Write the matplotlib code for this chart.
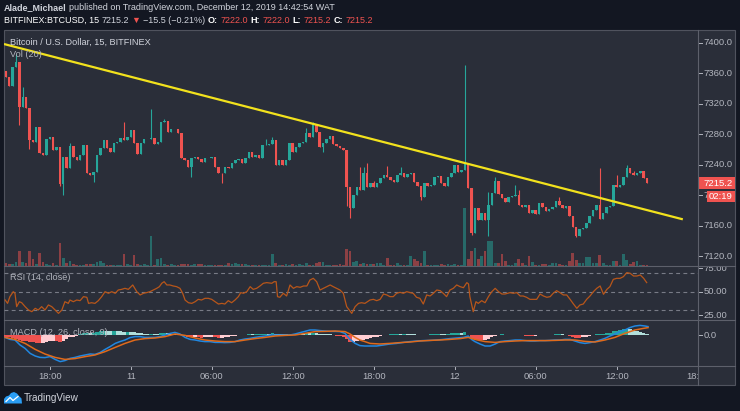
import numpy as np
import matplotlib
matplotlib.use('Agg')
import matplotlib.pyplot as plt
from matplotlib.patches import Rectangle, Polygon
from matplotlib.lines import Line2D
from matplotlib.transforms import blended_transform_factory

# datos (BTCUSD 15m, Bitfinex)
apertura0 = 7363.0
cierres = [
    7355, 7343, 7368, 7375, 7316, 7329, 7313.7, 7272, 7270, 7289.6,
    7254.6, 7252.5, 7274, 7276, 7259, 7262.5, 7214.4, 7250, 7235, 7264,
    7250.3, 7245.9, 7252.5, 7265.6, 7228.4, 7226.2, 7230.6, 7252.5, 7261.2, 7272.1,
    7261.2, 7256.8, 7267.8, 7270, 7274.3, 7272, 7275.6, 7285.2, 7267.8, 7253.8,
    7267.8, 7273, 7273.9, 7275, 7266.9, 7270, 7296.2, 7297, 7283, 7286,
    7286.5, 7281.7, 7248.1, 7245.9, 7237.2, 7248.1, 7250.3, 7246.8, 7243.3, 7248.1,
    7248.5, 7249.4, 7236.3, 7229.3, 7228.4, 7237.2, 7235, 7241.5, 7245.9, 7247.2,
    7241.5, 7249, 7256.8, 7250.3, 7252.5, 7248.1, 7265.6, 7266, 7266.9, 7272.1,
    7239.3, 7245.9, 7239.3, 7245.9, 7267.8, 7256.8, 7263.4, 7267.8, 7270, 7281.7,
    7276.5, 7293.3, 7283, 7262.5, 7267.8, 7273, 7277.4, 7266.9, 7264.3, 7261.2,
    7259, 7210.9, 7182.5, 7200, 7210.9, 7206.6, 7228.4, 7210.9, 7215.3, 7210,
    7216.2, 7221.9, 7225.8, 7223.2, 7219.7, 7217, 7226.2, 7228.4, 7224, 7228,
    7229.3, 7217.5, 7211.8, 7197.8, 7215.3, 7211.8, 7213.1, 7224, 7224.9, 7215.3,
    7211.8, 7224, 7228.4, 7239.3, 7230.6, 7232.8, 7241.5, 7208.7, 7149.7, 7182.5,
    7167.2, 7176, 7167.2, 7186.9, 7202.2, 7218.8, 7201.3, 7195.6, 7191.2, 7196.9,
    7198.6, 7200, 7186.9, 7184.7, 7186.4, 7176, 7180.3, 7175.1, 7189.9, 7184.7,
    7179.5, 7181.2, 7184.7, 7192.6, 7186.9, 7182.5, 7186, 7172.5, 7158.5, 7146.2,
    7155, 7156.3, 7162.8, 7172.5, 7180.3, 7186.9, 7168.1, 7176, 7183.8, 7185.6,
    7213.1, 7210, 7213.1, 7224, 7235, 7228.4, 7226.2, 7228.4, 7231.5, 7221.9,
    7215.2,
]
maximos = {3: 7385, 5: 7342, 19: 7268, 35: 7296, 43: 7312.8, 47: 7300, 77: 7274,
           79: 7276.5, 89: 7287.4, 91: 7296.4, 105: 7236.3, 106: 7236.3, 107: 7241.5,
           109: 7218.8, 113: 7238, 117: 7237.2, 136: 7370.5, 143: 7204.4, 145: 7224,
           151: 7213.1, 152: 7206.6, 164: 7196.9, 176: 7235.9, 181: 7226.2,
           184: 7239.3, 186: 7231}
minimos = {4: 7292, 7: 7260, 16: 7212, 17: 7200, 26: 7217.5, 55: 7223.2, 64: 7215.3,
           94: 7256, 101: 7185.6, 102: 7169.4, 123: 7193.4, 138: 7147, 143: 7145.6,
           169: 7145}
volumen = [
    10, 5, 6, 12, 45, 12, 10, 45, 20, 5, 40, 12, 5, 4, 8, 3, 70, 25, 10, 15,
    5, 4, 3, 4, 5, 5, 5, 12, 14, 8, 3, 3, 3, 2, 3, 35, 5, 3, 32, 5,
    3, 5, 3, 92, 3, 22, 25, 5, 3, 5, 3, 3, 5, 5, 5, 3, 5, 5, 5, 3,
    3, 3, 3, 3, 2, 3, 8, 6, 8, 6, 7, 7,
    3, 3, 2, 3, 3, 2, 3, 35, 8, 3, 3, 5, 3, 5, 3, 5, 3, 8, 3, 3,
    8, 12, 12, 3, 3, 3, 3, 5, 3, 50, 45, 12, 15, 5, 8, 5, 5, 5, 8, 8,
    4, 25, 3, 3, 8, 3, 3, 3, 30, 20, 15, 10, 45, 3, 3, 3, 3, 5, 3, 5,
    3, 5, 3, 3, 175, 20, 45, 55, 20, 30, 45, 75, 75, 10, 8, 35, 15, 3, 3, 8,
    20,
    8, 3, 30, 12, 3, 3, 5, 5, 3, 8, 8, 5, 3, 3, 15, 40, 18, 10, 8, 28,
    28, 8, 10, 33, 8, 3, 3, 15, 15, 3, 35, 18, 5, 12, 15, 3, 3, 3,
]
tendencia_x = [-0.55, 200.6]
tendencia_y = [7398.0, 7168.1]

rsi_pts = [
    (-0.2, 41.1), (0.5, 37.5), (1.2, 44.7), (2.2, 50.0), (2.7, 48.3), (3.2, 34.0),
    (4.0, 39.3), (4.7, 38.2), (5.7, 34.0), (6.7, 30.4), (7.7, 28.6), (8.7, 32.2),
    (9.6, 30.4), (10.6, 34.0), (11.6, 30.4), (12.6, 35.8), (13.6, 34.0), (14.6, 30.4),
    (15.6, 26.8), (16.6, 30.4), (17.5, 39.3), (18.5, 37.5), (19.0, 41.1), (20.0, 39.3),
    (21.0, 41.1), (22.0, 40.4), (23.0, 44.7), (24.0, 44.0), (24.5, 37.5), (25.4, 38.2),
    (26.4, 37.5), (27.4, 40.4), (28.4, 44.7), (29.4, 50.0), (30.4, 48.3), (31.4, 50.0),
    (32.4, 48.3), (33.3, 51.8), (34.3, 52.5), (35.3, 53.6), (36.3, 52.5), (37.6, 57.2),
    (38.8, 50.0), (39.8, 46.5), (40.8, 48.3), (41.7, 49.0), (42.7, 50.0), (43.7, 51.8),
    (44.7, 53.6), (45.5, 55.4), (46.2, 59.0), (46.9, 60.7), (47.7, 57.2), (48.6, 57.2),
    (49.6, 56.1), (50.6, 55.4), (51.6, 53.6), (52.4, 48.3), (53.1, 41.1), (54.1, 38.2),
    (55.1, 37.5), (56.1, 39.3), (57.0, 41.8), (58.0, 41.1), (59.0, 42.9), (60.0, 42.9),
    (61.0, 41.8), (62.0, 39.3), (63.0, 36.8), (64.0, 37.5), (64.9, 36.8), (65.9, 40.4),
    (66.9, 38.2), (67.9, 41.1), (68.9, 44.7), (69.6, 49.0), (70.4, 48.3), (71.4, 50.0),
    (72.4, 55.4), (73.3, 52.5), (74.3, 53.6), (75.3, 56.1), (76.3, 59.0), (77.3, 59.7),
    (78.8, 59.0), (79.5, 60.7), (80.1, 60.7), (80.5, 44.7), (81.2, 44.0), (82.2, 48.3),
    (83.2, 45.4), (84.2, 57.2), (85.2, 53.6), (86.2, 55.4), (87.2, 54.7), (88.2, 56.1),
    (89.2, 56.1), (90.1, 62.5), (91.1, 64.3), (92.1, 60.7), (93.1, 51.8), (94.1, 53.6),
    (95.1, 55.4), (96.1, 57.2), (97.0, 55.4), (98.0, 53.6), (99.0, 51.8), (100.0, 48.3),
    (101.0, 34.0), (102.5, 26.8), (103.5, 34.0), (104.5, 37.5), (105.4, 38.2), (106.4, 37.5),
    (107.9, 41.1), (108.9, 41.8), (109.9, 40.4), (110.9, 41.8), (111.9, 47.5), (112.9, 46.5),
    (113.8, 44.7), (114.8, 44.7), (115.8, 48.3), (116.8, 49.3), (117.8, 48.3), (118.8, 50.0),
    (119.8, 49.0), (120.7, 48.3), (121.7, 44.0), (122.7, 42.9), (123.7, 36.8), (124.7, 46.5),
    (125.7, 45.4), (126.7, 48.3), (127.7, 51.8), (128.7, 51.1), (129.6, 48.3), (130.6, 44.7),
    (131.6, 51.8), (132.6, 53.6), (133.6, 57.2), (134.6, 55.4), (135.6, 54.3), (136.6, 59.7),
    (137.1, 58.3), (137.5, 44.7), (138.5, 28.6), (139.3, 39.3), (140.0, 37.5), (141.0, 40.4),
    (142.0, 38.2), (143.0, 44.7), (144.0, 50.0), (145.0, 53.6), (146.0, 50.0), (147.0, 47.5),
    (147.9, 47.5), (149.4, 49.0), (150.4, 48.3), (151.4, 49.0), (152.4, 45.4), (153.3, 45.4),
    (154.3, 44.0), (155.3, 41.8), (156.3, 41.8), (157.3, 41.8), (158.3, 47.5), (159.3, 45.4),
    (160.3, 44.0), (161.3, 44.7), (162.2, 48.3), (163.2, 51.1), (164.2, 49.0), (165.2, 46.5),
    (166.2, 46.5), (167.2, 41.8), (168.2, 36.8), (169.2, 32.2), (170.1, 35.8), (171.1, 36.8),
    (172.1, 41.8), (173.1, 45.4), (174.1, 50.0), (175.1, 53.6), (176.1, 56.1), (177.1, 47.2),
    (178.1, 52.5), (179.0, 55.4), (180.0, 63.2), (181.0, 64.3), (182.0, 64.3), (183.0, 66.1),
    (184.0, 70.4), (185.0, 69.7), (186.0, 66.8), (187.0, 66.8), (188.0, 67.9), (189.0, 64.3),
    (189.9, 59.7),
]
macd_pts = [
    (-0.2, -1.2), (1.2, -2.2), (2.7, -2.5), (4.2, -5.0), (5.7, -6.7), (7.2, -9.2),
    (8.7, -10.5), (10.1, -11.2), (11.6, -11.3), (13.1, -10.8), (14.6, -12.2), (16.1, -13.3),
    (17.5, -12.8), (19.0, -11.7), (20.5, -11.2), (22.0, -10.5), (23.5, -10.0), (25.0, -9.5),
    (26.4, -9.7), (27.9, -8.8), (29.4, -7.2), (30.9, -5.8), (32.4, -4.2), (33.8, -3.3),
    (35.3, -2.5), (36.8, -1.3), (38.3, -0.8), (39.8, -0.8), (41.2, -1.2), (42.7, -1.2),
    (44.2, -1.2), (45.7, -0.8), (47.2, 0.0), (48.7, 0.8), (50.1, 1.3), (51.6, 0.5),
    (53.1, -1.2), (54.6, -2.2), (56.1, -2.5), (57.5, -3.0), (59.0, -3.3), (60.5, -3.3),
    (62.0, -3.7), (63.5, -3.7), (64.9, -3.8), (66.4, -3.7), (67.9, -3.3), (69.4, -2.5),
    (70.9, -2.0), (72.4, -1.7), (73.8, -1.2), (75.3, -0.8), (76.8, -0.5), (78.3, 0.0),
    (79.8, 0.0), (81.2, 0.0), (82.7, 0.0), (84.2, 0.0), (85.7, 0.5), (87.2, 1.2),
    (88.6, 1.8), (90.1, 2.5), (91.6, 2.5), (93.1, 2.2), (94.6, 2.0), (96.1, 1.8),
    (97.5, 1.8), (99.0, 1.7), (100.5, 0.8), (102.0, -2.2), (103.5, -4.2), (104.9, -5.3),
    (106.4, -5.5), (107.9, -5.5), (109.9, -5.5), (111.9, -5.0), (113.8, -4.5), (115.8, -4.2),
    (117.8, -3.7), (119.8, -3.3), (121.7, -3.0), (123.7, -2.8), (125.7, -2.7), (127.7, -2.5),
    (129.6, -2.2), (131.6, -1.8), (133.6, -1.5), (135.6, -1.2), (137.0, -0.5), (138.0, -2.2),
    (139.0, -3.3), (140.5, -4.5), (142.0, -5.5), (143.5, -5.5), (145.0, -4.5), (146.4, -3.3),
    (147.9, -3.0), (149.4, -2.8), (150.9, -2.5), (152.4, -2.5), (153.8, -2.8), (155.3, -3.0),
    (156.8, -3.0), (158.3, -2.8), (159.8, -2.8), (161.2, -2.7), (162.7, -2.5), (164.2, -2.5),
    (165.7, -2.2), (167.2, -2.2), (168.6, -3.0), (170.1, -3.8), (171.6, -4.2), (173.1, -3.8),
    (174.6, -3.3), (176.1, -2.5), (177.5, -1.7), (179.0, -0.5), (180.5, 0.5), (182.0, 1.7),
    (183.4, 2.5), (184.9, 3.7), (186.4, 4.5), (187.9, 4.8), (189.4, 4.5), (190.3, 4.2),
]
senal_pts = [
    (-0.2, -1.2), (2.7, -2.2), (5.7, -4.2), (8.7, -7.2), (11.6, -9.5), (14.6, -11.2),
    (17.5, -12.2), (20.5, -11.8), (23.5, -10.8), (26.4, -10.0), (29.4, -8.3), (32.4, -6.2),
    (35.3, -4.2), (38.3, -2.5), (41.2, -1.8), (44.2, -1.5), (47.2, -0.8), (50.1, 0.5),
    (53.1, -0.2), (56.1, -1.5), (59.0, -2.5), (62.0, -3.0), (64.9, -3.3), (67.9, -3.3),
    (70.9, -2.5), (73.8, -1.8), (76.8, -1.2), (79.8, -0.5), (82.7, -0.2), (85.7, 0.0),
    (88.6, 0.8), (91.6, 1.7), (94.6, 1.8), (97.5, 2.0), (100.5, 1.7), (102.0, 0.5),
    (103.5, -1.2), (104.9, -2.5), (106.4, -3.3), (107.9, -4.2), (110.8, -4.5), (113.8, -4.2),
    (116.8, -3.8), (119.8, -3.5), (122.7, -3.0), (125.7, -2.7), (128.7, -2.5), (131.6, -2.2),
    (134.6, -1.8), (137.0, -1.2), (139.0, -2.2), (142.0, -3.3), (145.0, -3.7), (147.9, -3.3),
    (150.9, -3.0), (153.8, -2.8), (156.8, -2.8), (159.8, -2.8), (162.7, -2.7), (165.7, -2.5),
    (168.6, -2.5), (171.6, -3.2), (174.6, -3.5), (177.5, -2.5), (180.5, -1.2), (183.4, 0.8),
    (186.4, 2.5), (188.9, 3.3), (190.3, 3.7),
]
histograma = [
    -0.8, -1.2, -1.5, -2.0, -2.3, -2.8, -3.0, -3.5, -3.6, -3.8,
    -4.0, -3.8, -3.4, -3.0, -2.8, -3.2, -3.5, -2.8, -1.8, -1.2,
    -0.8, -0.4, 0.3, 0.8, 1.0, 0.9, 1.2, 1.5, 1.9, 2.2,
    2.1, 2.0, 2.1, 1.9, 1.8, 1.6, 1.7, 1.5, 1.3, 1.1,
    0.9, 0.7, 0.6, 0.7, 0.5, 0.5, 0.8, 1.0, 0.9, 0.7,
    0.6, 0.4, 0.1, -0.5, -1.0, -1.2, -1.1, -1.2, -1.3, -1.2,
    -1.0, -0.9, -1.2, -1.5, -1.4, -1.2, -1.0, -0.7, -0.4, -0.2,
    0.1, 0.2, 0.4, 0.3, 0.4, 0.5, 0.6, 0.7, 0.7, 0.8,
    0.5, 0.4, 0.4, 0.3, 0.5, 0.5, 0.6, 0.7, 0.7, 0.9,
    0.9, 1.1, 0.9, 0.6, 0.5, 0.4, 0.4, 0.2, -0.3, -0.6,
    -0.9, -2.2, -3.6, -3.5, -3.0, -2.6, -2.3, -1.8, -1.5, -1.2,
    -1.0, -0.5, -0.2, 0.2, 0.3, 0.5, 0.6, 0.6, 0.7, 0.6,
    0.5, 0.3, 0.2, -0.2, 0.1, 0.2, 0.3, 0.4, 0.6, 0.5,
    0.4, 0.6, 0.8, 1.0, 1.1, 1.0, 1.3, 0.2, -1.5, -2.2,
    -2.5, -2.6, -2.4, -1.8, -1.0, -0.3, 0.2, 0.3, 0.2, 0.1,
    0.2, 0.1, -0.1, -0.2, -0.3, -0.5, -0.6, -0.5, -0.2, -0.1,
    -0.1, 0.0, 0.1, 0.3, 0.4, 0.3, 0.2, -0.3, -0.8, -1.3,
    -1.5, -1.2, -0.9, -0.5, -0.2, 0.3, 0.4, 0.6, 0.8, 1.2,
    1.8, 2.2, 2.5, 2.8, 3.0, 2.8, 2.4, 2.0, 1.6, 1.2,
    0.6,
]
horas_pos = [13, 37, 61, 85, 109, 133, 157, 181, 205]
horas_txt = ['18:00', '11', '06:00', '12:00', '18:00', '12', '06:00', '12:00', '18:00']
precios_eje = [7400, 7360, 7320, 7280, 7240, 7200, 7160, 7120]
rsi_eje = [75, 50, 25]
rsi_niveles = [70, 50, 30]

# colores estilo TradingView oscuro
FONDO = '#131722'
PANEL = '#2a2e39'
BORDE = '#50535e'
TEXTO = '#d1d4dc'
GRIS = '#b2b5be'
VERDE = '#26a69a'
ROJO = '#ef5350'
AMARILLO = '#f2e21d'
TAM = 6.8

plt.rcParams['font.family'] = ['Liberation Sans', 'DejaVu Sans']

W, H = 740, 411


def caja(x0, y0, x1, y1):
    return [x0 / W, 1 - y1 / H, (x1 - x0) / W, (y1 - y0) / H]


def fx(x):
    return x / W


def fy(y):
    return 1 - y / H


fig = plt.figure(figsize=(7.4, 4.11), dpi=100, facecolor=FONDO)
fig.patches.append(Rectangle((fx(4), fy(385)), fx(735) - fx(4), fy(30) - fy(385),
                             transform=fig.transFigure, facecolor=PANEL,
                             edgecolor=BORDE, lw=0.8, zorder=-1))

XLIM = (-0.55, 205.1)
PLIM = (7106.9, 7416.4)
RLIM = (19.7, 77.5)
MLIM = (-15.5, 7.5)

# panel de precio + volumen
ax_vol = fig.add_axes(caja(4, 30, 698, 266))
ax = fig.add_axes(caja(4, 30, 698, 266), sharex=ax_vol)
for eje in (ax_vol, ax):
    eje.axis('off')

n = len(cierres)
x = np.arange(n)
c = np.array(cierres, dtype=float)
o = np.concatenate([[apertura0], c[:-1]])
alto = np.maximum(o, c)
bajo = np.minimum(o, c)
for k, v in maximos.items():
    alto[k] = v
for k, v in minimos.items():
    bajo[k] = v
colores = np.where(c >= o, VERDE, ROJO)

ax_vol.bar(x, volumen, width=0.8, color=colores, alpha=0.5, linewidth=0)
ax_vol.set_ylim(0, 712)

ax.vlines(x, bajo, alto, colors=colores, lw=0.8)
ax.bar(x, c - o, bottom=o, width=0.72, color=colores, linewidth=0)
ax.plot(tendencia_x, tendencia_y, color=AMARILLO, lw=1.6, solid_capstyle='butt')
ax.set_xlim(*XLIM)
ax.set_ylim(*PLIM)

# RSI
ax_r = fig.add_axes(caja(4, 266, 698, 320), sharex=ax)
ax_r.axis('off')
for nivel in rsi_niveles:
    ax_r.axhline(nivel, color='#787b86', lw=0.8, ls=(0, (3.5, 3)))
rx, rv = zip(*rsi_pts)
ax_r.plot(rx, rv, color='#b8561a', lw=0.9)
ax_r.set_ylim(*RLIM)

# MACD
ax_m = fig.add_axes(caja(4, 320, 698, 366), sharex=ax)
ax_m.axis('off')
col_h = []
for k, h in enumerate(histograma):
    prev = histograma[k - 1] if k else h
    if h >= 0:
        col_h.append('#26a69a' if h > prev else '#b2dfdb')
    else:
        col_h.append('#ffcdd2' if h > prev else '#ef5350')
ax_m.bar(x, histograma, width=1.0, color=col_h, linewidth=0)
mx, mv = zip(*macd_pts)
sx, sv = zip(*senal_pts)
ax_m.plot(mx, mv, color='#2187e0', lw=1.1)
ax_m.plot(sx, sv, color='#e06a1b', lw=1.1)
ax_m.set_ylim(*MLIM)

# eje de tiempo
ax_t = fig.add_axes(caja(4, 366, 698, 385), sharex=ax)
ax_t.axis('off')
ax_t.set_ylim(0, 1)
for p, t in zip(horas_pos, horas_txt):
    ax_t.plot([p, p], [1.0, 0.86], color=GRIS, lw=0.7, clip_on=True)
    ax_t.text(p, 0.44, t, color=GRIS, fontsize=TAM, ha='center', va='center',
              clip_on=True)

# escalas de la derecha
s_p = fig.add_axes(caja(698, 30, 735, 266))
s_r = fig.add_axes(caja(698, 266, 735, 320))
s_m = fig.add_axes(caja(698, 320, 735, 366))
s_p.set_ylim(*PLIM)
s_r.set_ylim(*RLIM)
s_m.set_ylim(*MLIM)


def etiquetas(eje, valores, fmt):
    tr = blended_transform_factory(eje.transAxes, eje.transData)
    for v in valores:
        eje.plot([0.04, 0.11], [v, v], color=GRIS, lw=0.7, transform=tr)
        eje.text(0.16, v, fmt.format(v), transform=tr, color=GRIS, fontsize=TAM,
                 ha='left', va='center', clip_on=True)
    eje.axis('off')


etiquetas(s_p, precios_eje, '{:.1f}')
etiquetas(s_r, rsi_eje, '{:.2f}')
etiquetas(s_m, [0.0], '{:.1f}')

tr = blended_transform_factory(s_p.transAxes, s_p.transData)
s_p.add_patch(Rectangle((0.0, 7207.5), 1.0, 16.5, transform=tr, facecolor=ROJO,
                        edgecolor='none', zorder=5))
s_p.text(0.16, 7215.2, '7215.2', transform=tr, color='white', fontsize=TAM,
         ha='left', va='center', zorder=6)
s_p.add_patch(Rectangle((0.235, 7191.2), 0.765, 14.4, transform=tr, facecolor=ROJO,
                        edgecolor='none', zorder=5))
s_p.text(0.6, 7198.4, '02:19', transform=tr, color='white', fontsize=TAM,
         ha='center', va='center', zorder=6)

# lineas separadoras
for y in (266, 320, 366):
    fig.lines.append(Line2D([fx(4), fx(735)], [fy(y), fy(y)], transform=fig.transFigure,
                            color='#5d606b', lw=0.8))
fig.lines.append(Line2D([fx(698), fx(698)], [fy(30), fy(385)], transform=fig.transFigure,
                        color='#5d606b', lw=0.8))

# textos de cabecera, colocados uno tras otro sin solaparse
render = fig.canvas.get_renderer()


def fila(piezas, y, tam):
    fin = 0
    for px, txt, col, peso in piezas:
        x0 = max(px, fin + 2.5)
        t = fig.text(fx(x0), fy(y), txt, color=col, fontsize=tam, weight=peso,
                     va='center')
        fin = x0 + t.get_window_extent(render).width


fila([(4, 'Alade_Michael', TEXTO, 'bold'),
      (65, 'published on TradingView.com, December 12, 2019 14:42:54 WAT', TEXTO, 'normal')],
     8, 6.5)
fila([(4, 'BITFINEX:BTCUSD, 15', 'white', 'normal'),
      (95, '7215.2', TEXTO, 'normal'),
      (121, '▼', ROJO, 'normal'),
      (130, '−15.5 (−0.21%)', TEXTO, 'normal'),
      (194, 'O:', 'white', 'bold'),
      (204, '7222.0', ROJO, 'normal'),
      (233, 'H:', 'white', 'bold'),
      (242, '7222.0', ROJO, 'normal'),
      (272, 'L:', 'white', 'bold'),
      (281, '7215.2', ROJO, 'normal'),
      (309, 'C:', 'white', 'bold'),
      (319, '7215.2', ROJO, 'normal')],
     20.5, 6.5)

fig.text(fx(10), fy(42), 'Bitcoin / U.S. Dollar, 15, BITFINEX', color=TEXTO,
         fontsize=6.6, va='center')
fig.text(fx(10), fy(54), 'Vol (20)', color=GRIS, fontsize=6.6, va='center')
fig.text(fx(10), fy(277), 'RSI (14, close)', color=GRIS, fontsize=6.6, va='center')
fig.text(fx(10), fy(332.5), 'MACD (12, 26, close, 9)', color=GRIS, fontsize=6.6,
         va='center')

# logo TradingView
nube = [(4, 403.5), (4, 399), (6, 396.5), (9, 395.5), (11, 393), (14, 392), (17, 393.5),
        (19, 396), (21.5, 398.5), (22, 403.5)]
fig.patches.append(Polygon([(fx(a), fy(b)) for a, b in nube], closed=True,
                           transform=fig.transFigure, facecolor='#2a9df4',
                           edgecolor='none'))
zig = [(6, 401.5), (10, 397.5), (13, 400.5), (18, 396.5)]
fig.lines.append(Line2D([fx(a) for a, b in zig], [fy(b) for a, b in zig],
                        transform=fig.transFigure, color='white', lw=0.9))
fig.text(fx(23.5), fy(397.5), 'TradingView', color=TEXTO, fontsize=7.2, va='center')

fig.savefig('out.png', dpi=100, facecolor=FONDO)
